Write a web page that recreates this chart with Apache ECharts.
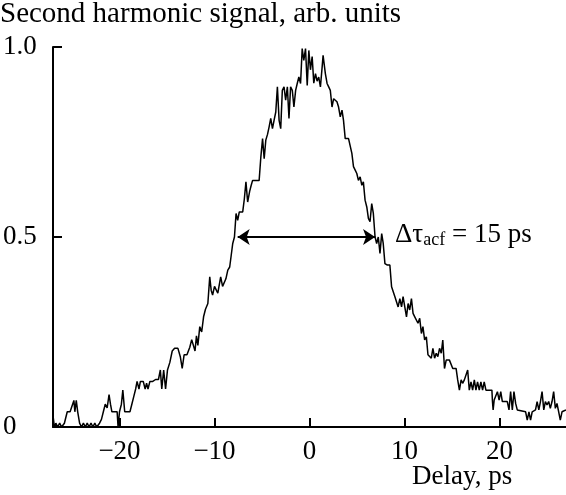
<!DOCTYPE html>
<html>
<head>
<meta charset="utf-8">
<script src="https://cdn.jsdelivr.net/npm/echarts@6/dist/echarts.min.js"></script>
<style>
  html, body { margin: 0; padding: 0; background: #fff; }
  #chart { width: 566px; height: 495px; }
</style>
</head>
<body>
<div id="chart"></div>
<script>
// delay, ps
const delay = [
  -27.0, -26.85, -26.7, -26.5, -26.3, -26.1, -25.8, -25.6, -25.5, -25.2, -25.0, -24.8, -24.7, -24.55, -24.4, -24.2,
  -24.0, -23.8, -23.6, -23.4, -23.2, -23.0, -22.8, -22.6, -22.4, -22.1, -21.9, -21.7, -21.5, -21.3, -21.1, -20.95,
  -20.8, -20.5, -20.25, -20.15, -20.0, -19.8, -19.65, -19.45, -19.2, -18.9, -18.7, -18.5, -18.3, -18.15, -17.95, -17.8,
  -17.5, -17.3, -17.15, -17.0, -16.8, -16.5, -16.2, -15.9, -15.7, -15.55, -15.35, -15.15, -14.95, -14.7, -14.45, -14.2,
  -13.85, -13.6, -13.4, -13.2, -12.9, -12.6, -12.4,
  -12.2, -12.05, -11.9, -11.75, -11.55, -11.35, -11.15, -10.95, -10.7, -10.5, -10.35, -10.2, -10.0, -9.85, -9.65, -9.35,
  -9.15, -8.95, -8.8, -8.6, -8.4, -8.25, -8.08, -7.9, -7.73, -7.56, -7.39, -7.03, -6.86, -6.69, -6.51, -6.3,
  -6.15, -5.99, -5.3, -5.12,
  -4.94, -4.77, -4.6, -4.42, -4.25, -4.08, -3.9, -3.73, -3.55, -3.38, -3.2, -3.03, -2.86, -2.68, -2.51, -2.33,
  -2.16, -1.99, -1.81, -1.64, -1.46, -1.29, -1.12, -0.94, -0.77, -0.6, -0.42, -0.24, -0.07, 0.1, 0.28, 0.45,
  0.63, 0.8, 0.97, 1.15, 1.33, 1.43, 1.67, 1.85, 2.02, 2.19, 2.37, 2.54, 2.72, 2.89, 3.06, 3.24,
  3.42, 3.58, 3.76, 4.11, 4.28, 4.46, 4.63, 4.81, 4.98, 5.15, 5.33, 5.51, 5.67, 5.85, 6.03, 6.2,
  6.37, 6.55, 6.72, 6.9, 7.07, 7.24, 7.42, 7.6, 7.76, 7.94, 8.2, 8.46, 8.64, 8.81, 8.99, 9.16,
  9.33, 9.51, 9.69, 9.85, 10.03, 10.21, 10.38, 10.55, 10.73, 10.9, 11.08, 11.25, 11.42, 11.6, 11.78, 11.94,
  12.12, 12.3, 12.47, 12.64, 12.82, 12.99, 13.17, 13.34, 13.51, 13.69, 13.87, 14.03, 14.21, 14.39, 14.73, 15.08,
  15.43, 15.6, 15.78, 15.96, 16.12, 16.3, 16.48, 16.65, 16.82, 17.0, 17.17, 17.35, 17.52, 17.69, 17.87, 18.04,
  18.22, 18.39, 18.57, 19.2, 19.26, 19.33, 19.44, 19.61, 19.78, 19.96, 20.13, 20.3, 20.82, 21.0, 21.17, 21.35,
  21.52, 21.7, 21.87, 22.05, 22.75, 22.92, 23.1, 23.27, 23.44, 23.79, 23.96, 24.14, 24.31, 24.48, 24.66, 24.83,
  25.0, 25.18, 25.35, 25.53, 25.7, 25.88, 26.05, 26.23, 26.4, 26.58, 26.75, 27.0
];

// second harmonic signal, arb. units
const signal = [
  0.03, 0.0, 0.01, 0.0, 0.01, 0.0, 0.01, 0.01, 0.04, 0.04, 0.04, 0.07, 0.04, 0.07, 0.04, 0.01,
  0.0, 0.01, 0.0, 0.01, 0.0, 0.01, 0.0, 0.01, 0.0, 0.01, 0.02, 0.04, 0.06, 0.05, 0.085, 0.06,
  0.04, 0.04, 0.04, 0.0, 0.04, 0.06, 0.097, 0.04, 0.04, 0.04, 0.06, 0.08, 0.1, 0.12, 0.1, 0.12,
  0.12, 0.1, 0.115, 0.1, 0.12, 0.12, 0.125, 0.125, 0.15, 0.1, 0.15, 0.1, 0.15, 0.17, 0.2, 0.207,
  0.207, 0.185, 0.154, 0.19, 0.19, 0.21, 0.23,
  0.23, 0.2, 0.24, 0.215, 0.264, 0.25, 0.29, 0.31, 0.325, 0.395, 0.36, 0.347, 0.37, 0.372, 0.352, 0.395,
  0.37, 0.375, 0.39, 0.413, 0.421, 0.45, 0.483, 0.5, 0.562, 0.544, 0.566, 0.566, 0.6, 0.645, 0.592, 0.62,
  0.635, 0.649, 0.649, 0.711,
  0.759, 0.706, 0.755, 0.77, 0.79, 0.812, 0.785, 0.807, 0.829, 0.895, 0.807, 0.785, 0.886, 0.895, 0.86, 0.895,
  0.812, 0.895, 0.886, 0.842, 0.886, 0.904, 0.921, 0.904, 0.996, 0.965, 0.996, 0.899, 0.991, 0.94, 0.975, 0.905,
  0.93, 0.91, 0.921, 0.895, 0.947, 0.978, 0.93, 0.904, 0.895, 0.886, 0.842, 0.864, 0.864, 0.856, 0.842, 0.816,
  0.834, 0.807, 0.759, 0.759, 0.755, 0.72, 0.685, 0.676, 0.667, 0.649, 0.658, 0.636, 0.645, 0.597, 0.579, 0.549,
  0.54, 0.588, 0.562, 0.5, 0.483, 0.5, 0.457, 0.509, 0.483, 0.43, 0.426, 0.426, 0.369, 0.365, 0.343, 0.338,
  0.316, 0.338, 0.316, 0.343, 0.316, 0.29, 0.325, 0.308, 0.338, 0.299, 0.29, 0.295, 0.273, 0.286, 0.246, 0.264,
  0.229, 0.237, 0.19, 0.194, 0.181, 0.207, 0.181, 0.194, 0.185, 0.207, 0.194, 0.229, 0.154, 0.176, 0.176, 0.154,
  0.154, 0.124, 0.097, 0.124, 0.115, 0.124, 0.119, 0.15, 0.097, 0.119, 0.097, 0.124, 0.097, 0.119, 0.097, 0.119,
  0.097, 0.119, 0.097, 0.097, 0.067, 0.045, 0.071, 0.067, 0.093, 0.071, 0.093, 0.067, 0.067, 0.045, 0.093, 0.045,
  0.093, 0.062, 0.045, 0.04, 0.04, 0.018, 0.04, 0.018, 0.04, 0.045, 0.067, 0.045, 0.067, 0.093, 0.045, 0.067,
  0.058, 0.067, 0.049, 0.067, 0.093, 0.049, 0.062, 0.04, 0.018, 0.04, 0.045, 0.045
];

const xTicks = [-20, -10, 0, 10, 20];
const yTicks = [0, 0.5, 1.0];
// FWHM arrow ends (ps) at half maximum
const fwhmEnds = [-7.56, 6.9];
const halfMax = 0.5;

const FONT = '"Liberation Serif", "DejaVu Serif", serif';

const chart = echarts.init(document.getElementById('chart'));

const option = {
  animation: false,
  backgroundColor: '#fff',
  grid: { left: 50, right: 0, top: 47, bottom: 68 },
  xAxis: {
    type: 'value',
    min: -27,
    max: 27,
    axisLine: { onZero: false, lineStyle: { color: '#000', width: 2 } },
    axisTick: { inside: true, length: 9, customValues: xTicks, lineStyle: { color: '#000', width: 2 } },
    axisLabel: {
      customValues: xTicks,
      margin: 11,
      color: '#000',
      fontFamily: FONT,
      fontSize: 27,
      formatter: (v) => String(v).replace('-', '\u2212')
    },
    splitLine: { show: false }
  },
  yAxis: {
    type: 'value',
    min: 0,
    max: 1,
    interval: 0.5,
    axisLine: { show: true, onZero: false, lineStyle: { color: '#000', width: 2 } },
    axisTick: { show: true, inside: true, length: 9, customValues: yTicks, lineStyle: { color: '#000', width: 2 } },
    axisLabel: {
      customValues: yTicks,
      align: 'left',
      margin: 50,
      color: '#000',
      fontFamily: FONT,
      fontSize: 27,
      formatter: (v) => (v === 0 ? '0' : v.toFixed(1))
    },
    splitLine: { show: false }
  },
  series: [
    {
      type: 'line',
      data: delay.map((d, i) => [d, signal[i]]),
      showSymbol: false,
      symbol: 'none',
      lineStyle: { color: '#000', width: 1.5 },
      silent: true,
      markLine: {
        silent: true,
        symbol: ['arrow', 'arrow'],
        symbolSize: 12,
        label: { show: false },
        lineStyle: { color: '#000', width: 2, type: 'solid' },
        emphasis: { disabled: true },
        data: [[{ coord: [fwhmEnds[0], halfMax] }, { coord: [fwhmEnds[1], halfMax] }]]
      }
    }
  ],
  graphic: [
    {
      type: 'text',
      left: 0,
      top: 0,
      style: { text: 'Second harmonic signal, arb. units', font: '29px ' + FONT, fill: '#000' }
    },
    {
      type: 'text',
      left: 412,
      top: 463,
      style: { text: 'Delay, ps', font: '27px ' + FONT, fill: '#000' }
    },
    {
      type: 'text',
      left: 395,
      top: 221,
      style: {
        text: '{a|\u0394\u03c4}{b|acf}{a| = 15 ps}',
        fill: '#000',
        rich: {
          a: { fontFamily: FONT, fontSize: 27, lineHeight: 30, verticalAlign: 'middle' },
          b: { fontFamily: FONT, fontSize: 18, lineHeight: 30, verticalAlign: 'bottom', padding: [10, 0, 0, 0] }
        }
      }
    }
  ]
};

chart.setOption(option);
</script>
</body>
</html>
